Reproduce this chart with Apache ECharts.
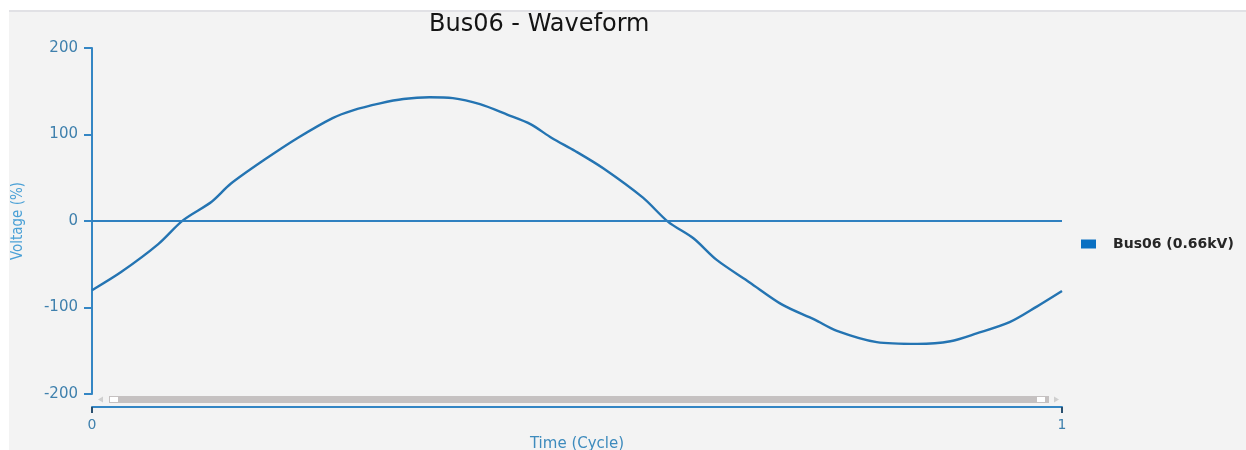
<!DOCTYPE html>
<html>
<head>
<meta charset="utf-8">
<title>Bus06 - Waveform</title>
<script src="https://cdn.jsdelivr.net/npm/echarts@6/dist/echarts.min.js"></script>
<style>
  html, body { margin: 0; padding: 0; background: #ffffff; }
  #panel {
    position: absolute; left: 9px; top: 10px; width: 1237px; height: 440px;
    background: #f3f3f3; border-top: 2px solid #e1e1e5; box-sizing: border-box;
  }
  #chart { position: absolute; left: 0; top: 0; width: 1246px; height: 450px; }
</style>
</head>
<body>
<div id="panel"></div>
<div id="chart"></div>
<script>
// Bus06 voltage over one cycle (time in cycles, voltage in %)
const timeCycle = [0, 0.030, 0.068, 0.094, 0.123, 0.143, 0.178, 0.212, 0.248, 0.269,
  0.297, 0.321, 0.348, 0.372, 0.400, 0.428, 0.452, 0.474, 0.498, 0.527,
  0.568, 0.594, 0.620, 0.644, 0.678, 0.712, 0.745, 0.768, 0.809, 0.851,
  0.885, 0.912, 0.946, 0.974, 1.0];
const voltagePct = [-80, -59, -27, 1, 22, 43, 71, 96, 119, 128,
  136, 141, 143, 142, 135, 123, 112, 96, 81, 61,
  27, -1, -20, -45, -71, -97, -114, -127, -140, -142,
  -139, -130, -117, -99, -81];
const seriesName = 'Bus06 (0.66kV)';
const chartTitle = 'Bus06 - Waveform';
const xTitle = 'Time (Cycle)';
const yTitle = 'Voltage (%)';

const axisBlue = '#3486c4';
const labelBlue = '#3f80ad';

const chart = echarts.init(document.getElementById('chart'), null, { renderer: 'canvas' });
chart.setOption({
  animation: false,
  backgroundColor: 'transparent',
  title: {
    text: chartTitle,
    left: 424, top: 8,
    textStyle: { fontFamily: 'DejaVu Sans', fontSize: 24, fontWeight: 'normal', color: '#141414' }
  },
  legend: {
    orient: 'vertical',
    left: 1081, top: 237, padding: 0,
    icon: 'rect', itemWidth: 15, itemHeight: 9,
    data: [seriesName],
    textStyle: { fontFamily: 'DejaVu Sans', fontSize: 14, fontWeight: 'bold', color: '#262626', padding: [0, 0, 0, 12] }
  },
  grid: { left: 92, right: 184, top: 48, bottom: 56, containLabel: false, outerBoundsMode: 'none' },
  xAxis: {
    type: 'value', min: 0, max: 1, interval: 1,
    position: 'bottom', offset: 13,
    name: xTitle, nameLocation: 'middle', nameGap: 30,
    nameTextStyle: { fontFamily: 'DejaVu Sans', fontSize: 15, color: '#3d8bbd' },
    axisLine: { onZero: false, lineStyle: { color: axisBlue, width: 2 } },
    axisTick: { show: true, length: 6, lineStyle: { color: '#2a4f6e', width: 2 } },
    axisLabel: { margin: 11, fontFamily: 'DejaVu Sans', fontSize: 14, color: labelBlue },
    splitLine: { show: false }
  },
  yAxis: {
    type: 'value', min: -200, max: 200, interval: 100,
    name: yTitle, nameLocation: 'middle', nameGap: 66, nameRotate: 90,
    nameTextStyle: { fontFamily: 'Liberation Sans Narrow, DejaVu Sans Condensed, sans-serif', fontSize: 15, color: '#4aa0d6' },
    axisLine: { show: true, lineStyle: { color: axisBlue, width: 2 } },
    axisTick: { show: true, length: 8, lineStyle: { color: axisBlue, width: 2 } },
    axisLabel: { margin: 14, fontFamily: 'DejaVu Sans', fontSize: 15, color: labelBlue },
    splitLine: { show: false }
  },
  dataZoom: [{
    type: 'slider', xAxisIndex: 0, start: 0, end: 100,
    left: 108, right: 198, top: 396, height: 7,
    filterMode: 'none',
    showDetail: false, showDataShadow: false, brushSelect: false,
    moveHandleSize: 0,
    borderColor: 'transparent', backgroundColor: '#c5c1c1', fillerColor: '#c5c1c1',
    handleIcon: 'path://M0,0H1V1H0Z', handleSize: 0,
    handleStyle: { color: 'transparent', borderColor: 'transparent', borderWidth: 0 },
    dataBackground: { lineStyle: { opacity: 0 }, areaStyle: { opacity: 0 } }
  }],
  graphic: [
    { type: 'polygon', shape: { points: [[98, 399.5], [103, 396.5], [103, 402.5]] }, style: { fill: '#cfcfcf' } },
    { type: 'polygon', shape: { points: [[1059, 399.5], [1054, 396.5], [1054, 402.5]] }, style: { fill: '#cfcfcf' } },
    { type: 'rect', z: 100, shape: { x: 110, y: 397, width: 8, height: 5 }, style: { fill: '#ffffff' } },
    { type: 'rect', z: 100, shape: { x: 1037, y: 397, width: 8, height: 5 }, style: { fill: '#ffffff' } }
  ],
  series: [{
    name: seriesName,
    type: 'line',
    data: timeCycle.map((t, i) => [t, voltagePct[i]]),
    showSymbol: false,
    smooth: 0.3,
    itemStyle: { color: '#0a70c2' },
    lineStyle: { color: '#2474b2', width: 2.4 },
    markLine: {
      silent: true, symbol: 'none', animation: false,
      label: { show: false },
      lineStyle: { color: '#2f80c0', width: 2, type: 'solid' },
      data: [{ yAxis: 0 }]
    }
  }]
});
</script>
</body>
</html>
